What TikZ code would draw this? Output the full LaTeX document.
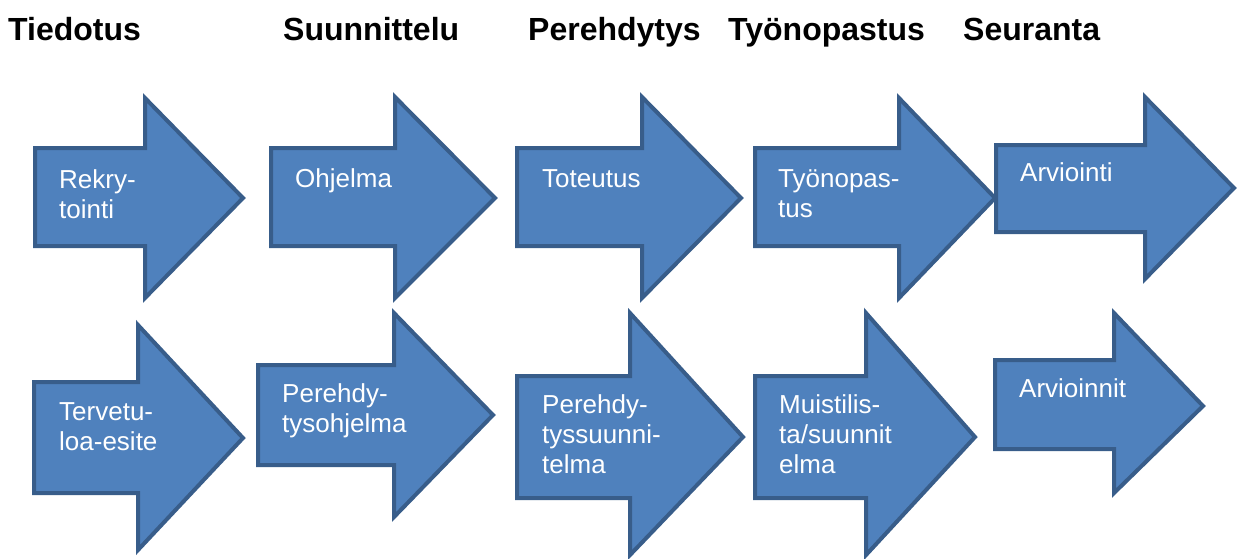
\documentclass[tikz,border=0pt]{standalone}
\usepackage{fontspec}
\setmainfont{Liberation Sans}
\begin{document}
\begin{tikzpicture}[x=1pt,y=-1pt,
  blockarrow/.style={fill=arrowfill,draw=arrowline,line width=4pt,line join=miter},
  label/.style={anchor=base west,inner sep=0pt,align=left,text=white,
    font=\fontsize{26}{30}\selectfont},
  header/.style={anchor=base west,inner sep=0pt,
    font=\fontsize{32}{36}\selectfont\bfseries}]
\definecolor{arrowfill}{HTML}{4F81BD}
\definecolor{arrowline}{HTML}{385D8A}
\useasboundingbox (0,0) rectangle (1241,558);
\newcommand\blockarr[8]{%
  \path[blockarrow] (#1,#2) -- (#4,#2) -- (#4,#5) -- (#7,#8) -- (#4,#6) -- (#4,#3) -- (#1,#3) -- cycle;}
% headers
\node[header] (h1) at (8,40) {Tiedotus};
\node[header] (h2) at (283,40) {Suunnittelu};
\node[header] (h3) at (528,40) {Perehdytys};
\node[header] (h4) at (728,40) {Työnopastus};
\node[header] (h5) at (963,40) {Seuranta};
% top row
\blockarr{35}{148}{246}{145}{98}{298}{243}{198}
\blockarr{271}{148}{246}{395}{97}{298}{495}{198}
\blockarr{517}{148}{246}{642}{97}{298}{741}{198}
\blockarr{755}{148}{246}{899}{98}{298}{995}{198}
\blockarr{996}{145}{232}{1145}{97}{279}{1234}{188}
% bottom row
\blockarr{34}{382}{493}{138}{325}{550}{243}{438}
\blockarr{258}{365}{465}{394}{313}{517}{493}{415}
\blockarr{517}{376}{498}{630}{313}{555}{743}{437}
\blockarr{755}{376}{498}{866}{313}{555}{975}{437}
\blockarr{995}{360}{449}{1114}{313}{493}{1203}{406}
% labels (anchored at the baseline of the last line)
\node[label] (t1) at (59,218) {Rekry-\\tointi};
\node[label] (t2) at (295,187) {Ohjelma};
\node[label] (t3) at (542,187) {Toteutus};
\node[label] (t4) at (778,217) {Työnopas-\\tus};
\node[label] (t5) at (1020,181) {Arviointi};
\node[label] (b1) at (59,450) {Tervetu-\\loa-esite};
\node[label] (b2) at (282,432) {Perehdy-\\tysohjelma};
\node[label] (b3) at (542,473) {Perehdy-\\tyssuunni-\\telma};
\node[label] (b4) at (779,473) {Muistilis-\\ta/suunnit\\elma};
\node[label] (b5) at (1019,397) {Arvioinnit};
\end{tikzpicture}
\end{document}
